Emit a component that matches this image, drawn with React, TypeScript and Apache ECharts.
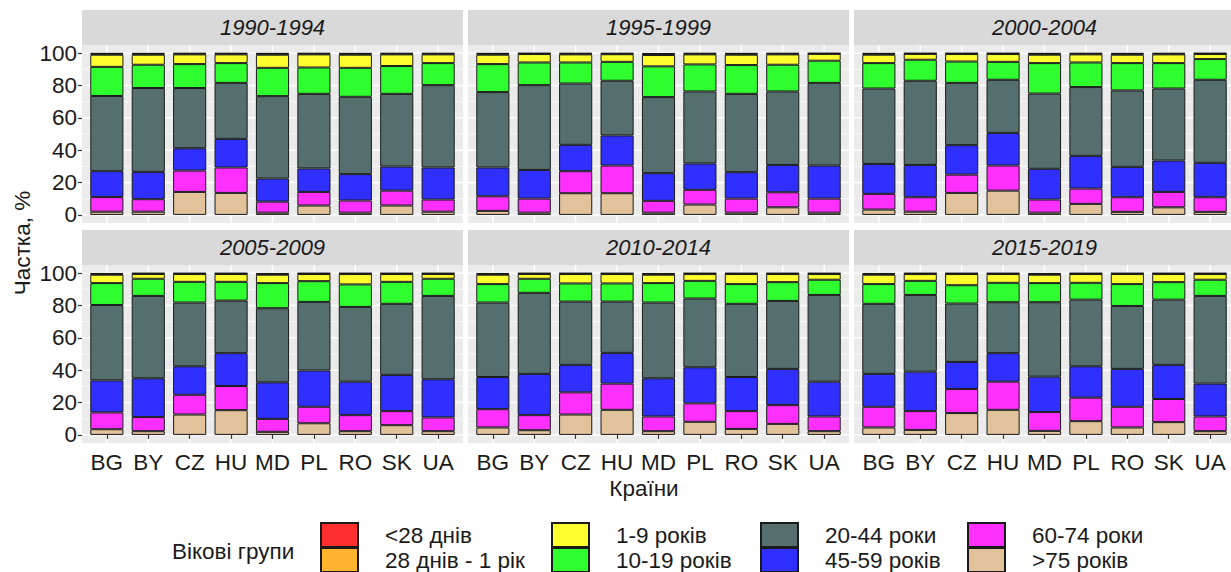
import React, { useEffect, useRef } from "react";
import * as echarts from "echarts";

const countries = ["BG", "BY", "CZ", "HU", "MD", "PL", "RO", "SK", "UA"];
const periods = ["1990-1994", "1995-1999", "2000-2004", "2005-2009", "2010-2014", "2015-2019"];
// legend order
const ageGroups = ["<28 днів", "28 днів - 1 рік", "1-9 років", "10-19 років", "20-44 роки", "45-59 років", "60-74 роки", ">75 років"];
const groupColors = ["#FF2F2F", "#FFB32F", "#FFFF2F", "#2FFF2F", "#556E6E", "#2F2FFF", "#FF2FFF", "#E1C29B"];
const yTicks = [0, 20, 40, 60, 80, 100];
const gridValues = [0, 10, 20, 30, 40, 50, 60, 70, 80, 90, 100];

// shares, % — rows: periods, columns: countries
const under28d = [
  [0.4, 0.4, 0.3, 0.3, 0.4, 0.3, 0.4, 0.3, 0.3],
  [0.4, 0.2, 0.3, 0.3, 0.5, 0.3, 0.4, 0.3, 0.2],
  [0.4, 0.2, 0.2, 0.2, 0.4, 0.3, 0.4, 0.3, 0.2],
  [0.5, 0.2, 0.2, 0.2, 0.5, 0.2, 0.2, 0.2, 0.2],
  [0.5, 0.2, 0.2, 0.2, 0.5, 0.2, 0.2, 0.2, 0.2],
  [0.5, 0.2, 0.2, 0.2, 0.5, 0.2, 0.2, 0.2, 0.2],
];
const days28to1y = [
  [0.6, 0.6, 0.5, 0.5, 0.6, 0.5, 0.6, 0.5, 0.5],
  [0.6, 0.4, 0.5, 0.4, 0.7, 0.5, 0.6, 0.5, 0.3],
  [0.6, 0.3, 0.4, 0.4, 0.6, 0.5, 0.6, 0.5, 0.4],
  [0.5, 0.4, 0.4, 0.4, 0.5, 0.4, 0.4, 0.4, 0.4],
  [0.5, 0.4, 0.4, 0.4, 0.5, 0.4, 0.4, 0.4, 0.4],
  [0.5, 0.4, 0.4, 0.4, 0.5, 0.4, 0.4, 0.4, 0.4],
];
const age1to9 = [
  [7.5, 6.2, 6.0, 5.4, 8.1, 8.1, 8.1, 7.2, 5.4],
  [5.8, 5.2, 5.0, 4.7, 7.0, 6.2, 6.4, 6.4, 4.2],
  [5.2, 3.6, 4.6, 4.8, 5.2, 5.0, 5.2, 5.4, 3.1],
  [5.2, 2.9, 4.8, 4.8, 5.2, 4.4, 6.4, 4.8, 2.9],
  [5.8, 2.9, 5.8, 5.8, 5.2, 4.2, 6.2, 5.0, 3.5],
  [5.8, 4.2, 6.9, 5.4, 5.2, 5.4, 6.2, 5.0, 3.5],
];
const age10to19 = [
  [18.0, 14.4, 14.8, 12.2, 17.5, 16.3, 17.9, 17.2, 13.6],
  [17.3, 14.0, 13.0, 11.7, 19.0, 16.7, 17.8, 16.5, 13.7],
  [15.7, 13.0, 13.2, 11.1, 18.8, 15.2, 16.9, 15.7, 12.8],
  [13.5, 10.6, 12.8, 11.6, 15.5, 12.8, 13.9, 13.6, 10.6],
  [11.4, 8.7, 11.2, 11.2, 12.0, 10.9, 12.2, 11.6, 9.4],
  [12.2, 8.7, 11.3, 12.0, 11.8, 10.4, 13.5, 10.8, 10.0],
];
const age20to44 = [
  [46.5, 51.8, 37.2, 34.6, 50.9, 46.1, 47.8, 44.9, 50.9],
  [46.6, 52.4, 37.9, 33.8, 47.0, 44.5, 48.4, 45.4, 51.1],
  [46.6, 52.0, 38.5, 32.8, 46.5, 42.5, 47.2, 44.5, 51.3],
  [46.6, 50.9, 39.4, 32.5, 45.8, 42.4, 46.2, 43.9, 51.5],
  [46.0, 50.1, 39.1, 31.7, 46.8, 42.5, 45.2, 42.0, 53.6],
  [43.3, 47.4, 36.1, 31.5, 46.0, 41.2, 38.9, 40.3, 54.2],
];
const age45to59 = [
  [16.0, 16.9, 13.8, 17.7, 14.3, 14.5, 16.3, 14.9, 19.8],
  [17.8, 17.7, 16.3, 18.6, 17.1, 16.3, 16.3, 16.9, 20.4],
  [18.5, 20.0, 18.2, 20.2, 19.0, 20.2, 18.8, 19.4, 21.3],
  [19.8, 24.0, 17.6, 20.3, 22.6, 22.4, 20.7, 22.4, 23.6],
  [19.9, 25.5, 17.0, 19.0, 23.6, 22.3, 21.1, 22.4, 21.5],
  [20.3, 24.4, 16.7, 17.6, 21.9, 19.4, 23.4, 21.1, 20.3],
];
const age60to74 = [
  [9.0, 7.7, 13.2, 15.7, 6.8, 8.4, 7.5, 9.2, 7.5],
  [9.0, 8.7, 13.6, 17.1, 7.3, 9.1, 8.7, 9.3, 8.7],
  [9.7, 8.9, 11.3, 15.5, 8.1, 9.5, 9.0, 9.5, 9.0],
  [10.4, 8.7, 12.2, 14.9, 8.0, 10.2, 9.9, 8.7, 8.5],
  [11.3, 9.3, 13.7, 16.2, 9.1, 11.4, 11.0, 11.6, 9.1],
  [12.8, 11.6, 14.9, 17.4, 11.6, 14.5, 12.8, 14.3, 9.1],
];
const over75 = [
  [2.0, 2.0, 14.2, 13.6, 1.4, 5.8, 1.4, 5.8, 2.0],
  [2.5, 1.4, 13.4, 13.4, 1.4, 6.4, 1.4, 4.7, 1.4],
  [3.3, 2.0, 13.6, 15.0, 1.4, 6.8, 1.9, 4.7, 1.9],
  [3.5, 2.3, 12.6, 15.3, 1.9, 7.2, 2.3, 6.0, 2.3],
  [4.6, 2.9, 12.6, 15.5, 2.3, 8.1, 3.7, 6.8, 2.3],
  [4.6, 3.1, 13.5, 15.5, 2.5, 8.5, 4.6, 7.9, 2.3],
];

// same order as ageGroups
const groupData = [under28d, days28to1y, age1to9, age10to19, age20to44, age45to59, age60to74, over75];

const FONT = "'Liberation Sans', Arial, sans-serif";
const FS = 22.5;
const W = 1231;
const H = 572;
const colLeft = [82, 468, 854];
const rowTop = [45, 265];
const panelW = 381;
const panelH = 178;
const stripH = 35;
const unit = panelW / 9.2;
const inset = unit * 0.1;
const TXT = "#1a1a1a";

export default function App() {
  const ref = useRef<HTMLDivElement>(null);
  useEffect(() => {
    document.body.style.margin = "0";
    const chart = echarts.init(ref.current!, null, { renderer: "svg" });
    const grids: any[] = [];
    const xAxes: any[] = [];
    const yAxes: any[] = [];
    const series: any[] = [];
    const graphics: any[] = [];

    periods.forEach((p, i) => {
      const r = Math.floor(i / 3);
      const c = i % 3;
      grids.push({ left: colLeft[c] + inset, top: rowTop[r], width: unit * 9, height: panelH, containLabel: false });
      xAxes.push({
        type: "category",
        gridIndex: i,
        data: countries,
        axisLine: { show: false },
        axisTick: { show: r === 1, alignWithLabel: true, length: 4, lineStyle: { color: "#333", width: 1.2 } },
        axisLabel: { show: r === 1, interval: 0, fontSize: FS, color: TXT, margin: 8, fontFamily: FONT },
        splitLine: { show: false },
      });
      yAxes.push({
        type: "value",
        gridIndex: i,
        min: -5,
        max: 105,
        offset: inset,
        axisLine: { show: false },
        axisTick: { show: c === 0, customValues: yTicks, length: 4, lineStyle: { color: "#333", width: 1.2 } },
        axisLabel: { show: c === 0, customValues: yTicks, fontSize: FS, color: TXT, margin: 5, fontFamily: FONT },
        splitLine: { show: false },
      });
      // panel background and grid lines, placed through the axes' scales
      series.push({
        type: "custom",
        xAxisIndex: i,
        yAxisIndex: i,
        z: 0,
        silent: true,
        clip: false,
        data: [[0, 0]],
        renderItem: (_params: any, api: any) => {
          const band = api.size([1, 0])[0];
          const pTop = api.coord([0, 105]);
          const pBot = api.coord([countries.length - 1, -5]);
          const x0 = pTop[0] - 0.6 * band;
          const x1 = pBot[0] + 0.6 * band;
          const children: any[] = [
            { type: "rect", shape: { x: x0, y: pTop[1], width: x1 - x0, height: pBot[1] - pTop[1] }, style: { fill: "#EBEBEB" } },
          ];
          gridValues.forEach((v) => {
            const y = api.coord([0, v])[1];
            const major = v % 20 === 0;
            children.push({
              type: "line",
              shape: { x1: x0, y1: y, x2: x1, y2: y },
              style: { stroke: "#FFFFFF", lineWidth: major ? 1.4 : 0.7 },
            });
          });
          countries.forEach((_c, k) => {
            const x = api.coord([k, 0])[0];
            children.push({
              type: "line",
              shape: { x1: x, y1: pTop[1], x2: x, y2: pBot[1] },
              style: { stroke: "#FFFFFF", lineWidth: 1.4 },
            });
          });
          return { type: "group", children };
        },
      });
      // strip
      graphics.push({
        type: "rect",
        shape: { x: colLeft[c], y: rowTop[r] - stripH, width: panelW, height: stripH },
        style: { fill: "#D9D9D9" },
        silent: true,
      });
      graphics.push({
        type: "text",
        x: colLeft[c] + panelW / 2,
        y: rowTop[r] - stripH / 2,
        style: { text: p, fontSize: 22, fontStyle: "italic", fill: TXT, align: "center", verticalAlign: "middle", fontFamily: FONT },
        silent: true,
      });
    });

    // bars: stacked bottom-up (>75 first)
    for (let g = ageGroups.length - 1; g >= 0; g--) {
      periods.forEach((_p, i) => {
        series.push({
          type: "bar",
          name: ageGroups[g],
          stack: "s" + i,
          xAxisIndex: i,
          yAxisIndex: i,
          barWidth: "80%",
          z: 2,
          data: groupData[g][i],
          itemStyle: { color: groupColors[g], borderColor: "#1a1a1a", borderWidth: 1 },
          emphasis: { disabled: true },
        });
      });
    }

    const legendLeft = [320, 551, 760, 967];
    const legendTop = [522, 547];
    const legends = ageGroups.map((name, k) => ({
      orient: "horizontal",
      left: legendLeft[Math.floor(k / 2)],
      top: legendTop[k % 2],
      itemWidth: 37,
      itemHeight: 24,
      padding: 0,
      icon: "rect",
      selectedMode: false,
      data: [name],
      textStyle: { fontSize: FS, color: TXT, fontFamily: FONT, padding: [0, 0, 0, 22] },
    }));

    graphics.push({
      type: "text",
      x: 22,
      y: 243,
      rotation: Math.PI / 2,
      style: { text: "Частка, %", fontSize: FS, fill: TXT, align: "center", verticalAlign: "middle", fontFamily: FONT },
    });
    graphics.push({
      type: "text",
      x: 644,
      y: 488,
      style: { text: "Країни", fontSize: FS, fill: TXT, align: "center", verticalAlign: "middle", fontFamily: FONT },
    });
    graphics.push({
      type: "text",
      x: 172,
      y: 551,
      style: { text: "Вікові групи", fontSize: FS, fill: TXT, align: "left", verticalAlign: "middle", fontFamily: FONT },
    });

    chart.setOption({
      animation: false,
      backgroundColor: "#FFFFFF",
      textStyle: { fontFamily: FONT },
      grid: grids,
      xAxis: xAxes,
      yAxis: yAxes,
      legend: legends,
      series,
      graphic: graphics,
    });
    return () => chart.dispose();
  }, []);
  return <div ref={ref} style={{ width: W, height: H }} />;
}
